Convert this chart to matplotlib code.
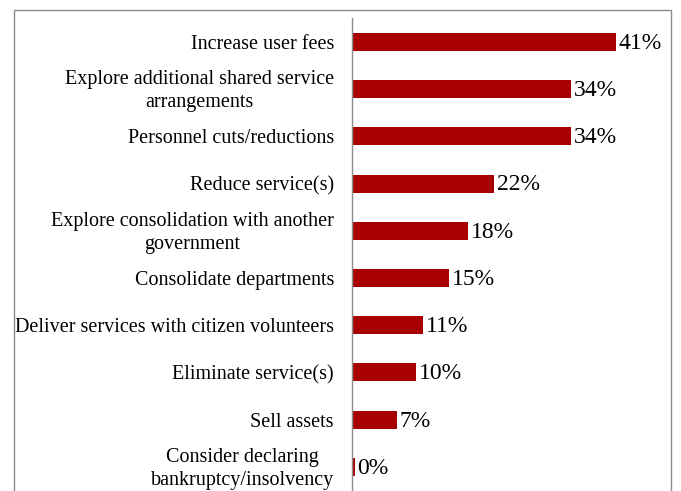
"""Horizontal bar chart: fiscal actions taken"""
import matplotlib

matplotlib.use("Agg")
import matplotlib.pyplot as plt
from matplotlib.patches import Rectangle
from matplotlib.transforms import ScaledTranslation

# 数据
categories = [
    "Increase user fees",
    "Explore additional shared service\narrangements",
    "Personnel cuts/reductions",
    "Reduce service(s)",
    "Explore consolidation with another\ngovernment",
    "Consolidate departments",
    "Deliver services with citizen volunteers",
    "Eliminate service(s)",
    "Sell assets",
    "Consider declaring\nbankruptcy/insolvency",
]
values = [41, 34, 34, 22, 18, 15, 11, 10, 7, 0.4]
value_labels = ["41%", "34%", "34%", "22%", "18%", "15%", "11%", "10%", "7%", "0%"]

W, H = 681, 491
DPI = 100


def main():
    plt.rcParams["font.family"] = ["Liberation Serif", "DejaVu Serif"]
    fig = plt.figure(figsize=(W / DPI, H / DPI), dpi=DPI)

    # 外框 (底边在画面之外)
    fig.patches.append(
        Rectangle((13.5 / W, -0.05), (671 - 13.5) / W, (H - 10.5) / H + 0.05,
                  transform=fig.transFigure, fill=False,
                  edgecolor="#8c8c8c", linewidth=1.0)
    )

    ax = fig.add_axes([352 / W, 0.5 / H, 309 / W, (490.6 - 18.4) / H])
    y = list(range(len(categories)))
    ax.barh(y, values, height=0.38, color="#a80000")
    ax.set_xlim(0, 48)
    ax.set_ylim(9.5, -0.5)

    for yi, v, lab in zip(y, values, value_labels):
        ax.text(v + 0.45, yi + 0.03, lab, va="center", ha="left", fontsize=17)

    # 类别标签 (手动绘制, 两行标签稍微上移)
    ax.set_yticks(y)
    ax.set_yticklabels([])
    ax.tick_params(axis="y", length=0)
    for yi, cat in zip(y, categories):
        dy = 2.5 if "\n" in cat else 0.0
        off = ScaledTranslation(-18 / DPI, dy / DPI, fig.dpi_scale_trans)
        ax.text(0, yi, cat, transform=ax.get_yaxis_transform() + off,
                ha="right", va="center_baseline", multialignment="center",
                fontsize=14.5, linespacing=1.3)

    ax.set_xticks([])
    for s in ["top", "right", "bottom"]:
        ax.spines[s].set_visible(False)
    ax.spines["left"].set_color("#8c8c8c")
    ax.spines["left"].set_linewidth(1.0)

    fig.savefig("out.png", dpi=DPI)
    plt.close(fig)


if __name__ == "__main__":
    main()
